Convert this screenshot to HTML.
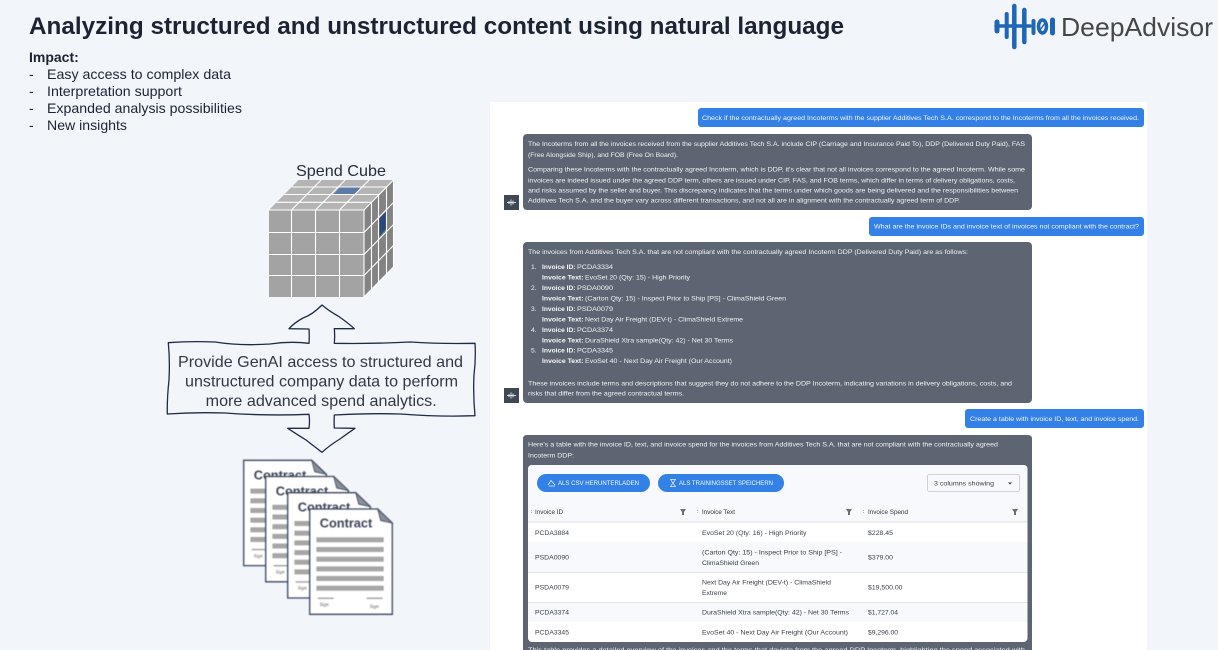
<!DOCTYPE html>
<html lang="en">
<head>
<meta charset="utf-8">
<title>Analyzing structured and unstructured content using natural language</title>
<style>
html,body{margin:0;padding:0;background:#f2f6fa}
svg{display:block}
text{font-family:"Liberation Sans",sans-serif}
.h{fill:#1c2333}
.w{fill:#f2f4f6;font-size:6.7px}
.wb{fill:#f7f8f9;font-size:6.7px;font-weight:bold}
.t{fill:#3a3f46;font-size:6.7px}
.th{fill:#33383f;font-size:6.2px}
.c{fill:#3c4356;font-size:13px;font-weight:bold}
.s{fill:#555;font-size:5px;font-style:italic;font-family:"Liberation Serif",serif}
.b3{filter:blur(.3px)}
.b4{filter:blur(.4px)}
</style>
</head>
<body>
<svg xmlns="http://www.w3.org/2000/svg" width="1218" height="650" viewBox="0 0 1218 650">
<defs>
<clipPath id="tc"><rect x="528" y="465" width="499.500" height="177" rx="4"/></clipPath>
<g id="doc">
<path d="M0 0H68L82.600 14V105.300H0Z" fill="#fff" stroke="#3a4460" stroke-width="1.300"/>
<path d="M68 0L71 11.500L82.600 14Z" fill="#8b8f98" stroke="#3a4460" stroke-width=".8"/>
<g fill="#a6a6a6">
<rect x="6.700" y="28.300" width="67.300" height="5"/>
<rect x="6.700" y="38" width="67.300" height="5"/>
<rect x="6.700" y="47.700" width="67.300" height="5"/>
<rect x="6.700" y="57.400" width="67.300" height="5"/>
<rect x="6.700" y="67" width="67.300" height="5"/>
<rect x="6.700" y="76.700" width="67.300" height="5"/>
<rect x="8" y="88.500" width="16" height="1.500"/>
<rect x="57" y="88.500" width="16" height="1.500"/>
</g>
</g>
<g id="av">
<rect x="0" y="0" width="15" height="15" fill="#3f4855"/>
<path d="M3 7.500H12M5 6V9M7 4.500V10.500M9 5.500V9.500" stroke="#fff" stroke-width=".8" fill="none"/>
</g>
</defs>

<rect width="1218" height="650" fill="#f2f6fa"/>

<!-- Title -->
<text x="29" y="34" class="h" font-size="24" font-weight="bold" textLength="815" lengthAdjust="spacingAndGlyphs">Analyzing structured and unstructured content using natural language</text>

<!-- Logo -->
<g stroke="#1f66b5" stroke-linecap="round" fill="none" class="b3">
<path d="M996 26H1030" stroke-width="3.500"/>
<path d="M997 22V31" stroke-width="5"/>
<path d="M1006.700 14V37" stroke-width="4"/>
<path d="M1014.300 6V47" stroke-width="4.500"/>
<path d="M1024.300 10V42" stroke-width="4.500"/>
<path d="M1033.500 21V33" stroke-width="4"/>
<path d="M1052.500 20V33" stroke-width="5"/>
</g>
<ellipse cx="1042.500" cy="26.500" rx="4" ry="6.500" fill="none" stroke="#1f66b5" stroke-width="3.500" class="b3"/>
<path d="M1040 30L1045 23" stroke="#1f66b5" stroke-width="1.500" class="b3"/>
<text x="1061" y="36" font-size="26" fill="#464646" textLength="152" lengthAdjust="spacingAndGlyphs">DeepAdvisor</text>

<!-- Impact -->
<text x="29" y="62" class="h" font-size="14" font-weight="bold">Impact:</text>
<g class="h" font-size="14">
<text x="29" y="79">-</text><text x="47" y="79" textLength="184" lengthAdjust="spacingAndGlyphs">Easy access to complex data</text>
<text x="29" y="96">-</text><text x="47" y="96" textLength="135" lengthAdjust="spacingAndGlyphs">Interpretation support</text>
<text x="29" y="113">-</text><text x="47" y="113" textLength="195" lengthAdjust="spacingAndGlyphs">Expanded analysis possibilities</text>
<text x="29" y="130">-</text><text x="47" y="130" textLength="80" lengthAdjust="spacingAndGlyphs">New insights</text>
</g>

<!-- Spend cube -->
<text x="296" y="176" font-size="16" fill="#262c3a" textLength="90" lengthAdjust="spacingAndGlyphs">Spend Cube</text>
<path d="M269 210H364L393.500 180H298.500Z" fill="#b4b4b4"/>
<path d="M364 210L393.500 180V267L364 297Z" fill="#838383"/>
<rect x="269" y="210" width="95" height="87" fill="#a3a3a3"/>
<path d="M340 187H360.700L355 194.500H333.300Z" fill="#5b7aa5"/>
<path d="M379.300 218.300L386.700 211V228.300L379.300 236.700Z" fill="#2c4a78"/>
<g stroke="#fff" fill="none" stroke-width="1.100">
<path d="M291.500 210V297M315.500 210V297M339.500 210V297M269 232.500H364M269 254.500H364M269 275.500H364"/>
<path d="M269 210H364V297M364 210L393.500 180"/>
<path d="M291.500 210L321.100 180M315.500 210L345.100 180M339.500 210L369.100 180"/>
<path d="M291.700 187H386.700M284.300 194.500H379.300M276.600 202.300H371.600"/>
<path d="M371.500 202.500V289.500M378.500 195.500V282.500M386.500 187.500V274.500"/>
<path d="M364 232.500L393.500 202.500M364 254.500L393.500 224.500M364 275.500L393.500 245.500"/>
<path d="M393.500 180V267L364 297"/>
</g>

<!-- Sketched callout arrow -->
<path d="M322 305Q312 315 303 318Q294 323 289 328.700L309 329Q309.500 336 309 343.300Q290 341 270 344Q240 346 215 342Q190 341 168.300 342.700Q170 360 169 380Q167 398 167.300 414Q195 412 225 413Q265 416 309 414.300Q310 421 309 428.300L287.700 428.300Q298 435 306 440Q315 447 322 452.300Q330 445 340 439Q348 433 355 428.300L334.300 428Q334 421 334.300 415Q370 413 400 414Q440 417 475 415.700Q473 395 474 375Q476 358 475 343.300Q440 344 410 342Q370 344 334.300 343.300Q335 336 334.300 328.700L354.300 328.700Q347 322 338 316Q329 311 322 305Z" fill="#f2f6fa" stroke="#1f2a44" stroke-width="1.300" stroke-linejoin="round"/>
<g font-size="16" fill="#333844">
<text x="178" y="367" textLength="285" lengthAdjust="spacingAndGlyphs">Provide GenAI access to structured and</text>
<text x="185" y="386.500" textLength="273" lengthAdjust="spacingAndGlyphs">unstructured company data to perform</text>
<text x="205.700" y="406" textLength="231" lengthAdjust="spacingAndGlyphs">more advanced spend analytics.</text>
</g>

<!-- Contracts -->
<g class="b4">
<g transform="translate(243.700 460.300)"><use href="#doc"/><text x="10" y="19" class="c" textLength="52.600" lengthAdjust="spacingAndGlyphs">Contract</text><text x="10" y="97" class="s">Sign</text></g>
<g transform="translate(265.700 476.500)"><use href="#doc"/><text x="10" y="19" class="c" textLength="52.600" lengthAdjust="spacingAndGlyphs">Contract</text><text x="10" y="97" class="s">Sign</text></g>
<g transform="translate(287.700 492.700)"><use href="#doc"/><text x="10" y="19" class="c" textLength="52.600" lengthAdjust="spacingAndGlyphs">Contract</text><text x="10" y="97" class="s">Sign</text></g>
<g transform="translate(309.700 509)"><use href="#doc"/><text x="10" y="18.300" class="c" textLength="52.600" lengthAdjust="spacingAndGlyphs">Contract</text><text x="10" y="97" class="s">Sign</text><text x="60" y="99" class="s">Sign</text></g>
</g>

<!-- Chat panel -->
<rect x="490" y="102" width="657" height="548" fill="#fff"/>
<g class="b3">

<rect x="698" y="108" width="446" height="19" rx="3" fill="#3380e6"/>
<text x="702" y="120" class="w" textLength="437" lengthAdjust="spacingAndGlyphs">Check if the contractually agreed Incoterms with the supplier Additives Tech S.A. correspond to the Incoterms from all the invoices received.</text>

<rect x="523" y="134" width="509" height="76" rx="4" fill="#5c6571"/>
<use href="#av" x="504" y="195"/>
<g class="w">
<text x="528" y="146" textLength="497" lengthAdjust="spacingAndGlyphs">The Incoterms from all the invoices received from the supplier Additives Tech S.A. include CIP (Carriage and Insurance Paid To), DDP (Delivered Duty Paid), FAS</text>
<text x="528" y="157" textLength="150" lengthAdjust="spacingAndGlyphs">(Free Alongside Ship), and FOB (Free On Board).</text>
<text x="528" y="171.500" textLength="497" lengthAdjust="spacingAndGlyphs">Comparing these Incoterms with the contractually agreed Incoterm, which is DDP, it's clear that not all invoices correspond to the agreed Incoterm. While some</text>
<text x="528" y="182.500" textLength="487" lengthAdjust="spacingAndGlyphs">invoices are indeed issued under the agreed DDP term, others are issued under CIP, FAS, and FOB terms, which differ in terms of delivery obligations, costs,</text>
<text x="528" y="192.500" textLength="490" lengthAdjust="spacingAndGlyphs">and risks assumed by the seller and buyer. This discrepancy indicates that the terms under which goods are being delivered and the responsibilities between</text>
<text x="528" y="202.500" textLength="432" lengthAdjust="spacingAndGlyphs">Additives Tech S.A. and the buyer vary across different transactions, and not all are in alignment with the contractually agreed term of DDP.</text>
</g>

<rect x="869" y="217" width="275" height="19" rx="3" fill="#3380e6"/>
<text x="874" y="228.500" class="w" textLength="265" lengthAdjust="spacingAndGlyphs">What are the invoice IDs and invoice text of invoices not compliant with the contract?</text>

<rect x="523" y="242" width="509" height="161" rx="4" fill="#5c6571"/>
<use href="#av" x="504" y="388"/>
<g class="w">
<text x="528" y="254" textLength="440" lengthAdjust="spacingAndGlyphs">The invoices from Additives Tech S.A. that are not compliant with the contractually agreed Incoterm DDP (Delivered Duty Paid) are as follows:</text>
<text x="531" y="269">1.</text>
<text x="577" y="269" textLength="36" lengthAdjust="spacingAndGlyphs">PCDA3334</text>
<text x="585" y="279.500" textLength="105" lengthAdjust="spacingAndGlyphs">EvoSet 20 (Qty: 15) - High Priority</text>
<text x="531" y="290">2.</text>
<text x="577" y="290" textLength="36" lengthAdjust="spacingAndGlyphs">PSDA0090</text>
<text x="585" y="300.500" textLength="201" lengthAdjust="spacingAndGlyphs">(Carton Qty: 15) - Inspect Prior to Ship [PS] - ClimaShield Green</text>
<text x="531" y="311">3.</text>
<text x="577" y="311" textLength="36" lengthAdjust="spacingAndGlyphs">PSDA0079</text>
<text x="585" y="321.500" textLength="158" lengthAdjust="spacingAndGlyphs">Next Day Air Freight (DEV-t) - ClimaShield Extreme</text>
<text x="531" y="332">4.</text>
<text x="577" y="332" textLength="36" lengthAdjust="spacingAndGlyphs">PCDA3374</text>
<text x="585" y="342.500" textLength="148" lengthAdjust="spacingAndGlyphs">DuraShield Xtra sample(Qty: 42) - Net 30 Terms</text>
<text x="531" y="352.500">5.</text>
<text x="577" y="352.500" textLength="36" lengthAdjust="spacingAndGlyphs">PCDA3345</text>
<text x="585" y="363" textLength="147" lengthAdjust="spacingAndGlyphs">EvoSet 40 - Next Day Air Freight (Our Account)</text>
<text x="528" y="385.500" textLength="484" lengthAdjust="spacingAndGlyphs">These invoices include terms and descriptions that suggest they do not adhere to the DDP Incoterm, indicating variations in delivery obligations, costs, and</text>
<text x="528" y="395.500" textLength="156" lengthAdjust="spacingAndGlyphs">risks that differ from the agreed contractual terms.</text>
</g>
<g class="wb">
<text x="542" y="269" textLength="33.500" lengthAdjust="spacingAndGlyphs">Invoice ID:</text>
<text x="542" y="279.500" textLength="41.500" lengthAdjust="spacingAndGlyphs">Invoice Text:</text>
<text x="542" y="290" textLength="33.500" lengthAdjust="spacingAndGlyphs">Invoice ID:</text>
<text x="542" y="300.500" textLength="41.500" lengthAdjust="spacingAndGlyphs">Invoice Text:</text>
<text x="542" y="311" textLength="33.500" lengthAdjust="spacingAndGlyphs">Invoice ID:</text>
<text x="542" y="321.500" textLength="41.500" lengthAdjust="spacingAndGlyphs">Invoice Text:</text>
<text x="542" y="332" textLength="33.500" lengthAdjust="spacingAndGlyphs">Invoice ID:</text>
<text x="542" y="342.500" textLength="41.500" lengthAdjust="spacingAndGlyphs">Invoice Text:</text>
<text x="542" y="352.500" textLength="33.500" lengthAdjust="spacingAndGlyphs">Invoice ID:</text>
<text x="542" y="363" textLength="41.500" lengthAdjust="spacingAndGlyphs">Invoice Text:</text>
</g>

<rect x="965" y="409" width="179" height="19" rx="3" fill="#3380e6"/>
<text x="970" y="421" class="w" textLength="169" lengthAdjust="spacingAndGlyphs">Create a table with invoice ID, text, and invoice spend.</text>

<path d="M523 650V439Q523 435 527 435H1028Q1032 435 1032 439V650Z" fill="#5c6571"/>
<text x="528" y="446.500" class="w" textLength="470" lengthAdjust="spacingAndGlyphs">Here's a table with the invoice ID, text, and invoice spend for the invoices from Additives Tech S.A. that are not compliant with the contractually agreed</text>
<text x="528" y="457.500" class="w" textLength="46" lengthAdjust="spacingAndGlyphs">Incoterm DDP:</text>
<text x="528" y="652" class="w" textLength="497" lengthAdjust="spacingAndGlyphs">This table provides a detailed overview of the invoices and the terms that deviate from the agreed DDP Incoterm, highlighting the spend associated with</text>

<!-- Data table -->
<g clip-path="url(#tc)">
<rect x="528" y="465" width="500" height="177" fill="#fff"/>
<rect x="528" y="465" width="500" height="57" fill="#f7f9fc"/>
<rect x="528" y="542" width="500" height="30" fill="#f7f9fc"/>
<rect x="528" y="603" width="500" height="19" fill="#f7f9fc"/>
<rect x="528" y="521.500" width="500" height="1" fill="#dde1e7"/>
<rect x="528" y="572" width="500" height="1" fill="#e3e6eb"/>
<rect x="528" y="602" width="500" height="1" fill="#e3e6eb"/>
</g>

<rect x="537" y="474" width="113" height="18" rx="9" fill="#3380e6"/>
<rect x="658" y="474" width="126" height="18" rx="9" fill="#3380e6"/>
<path d="M548 485L551 480.500L555 485M549 486H555" fill="none" stroke="#eef4fd" stroke-width=".7"/>
<path d="M670.500 479.500H675.500L673 483L675.500 486.500H670.500L673 483Z" fill="none" stroke="#eef4fd" stroke-width=".7"/>
<text x="558" y="485" fill="#f4f8fe" font-size="6.200" textLength="81" lengthAdjust="spacingAndGlyphs">ALS CSV HERUNTERLADEN</text>
<text x="679" y="485" fill="#f4f8fe" font-size="6.200" textLength="94" lengthAdjust="spacingAndGlyphs">ALS TRAININGSSET SPEICHERN</text>
<rect x="927.500" y="474.500" width="92" height="17" rx="2" fill="#f7f9fc" stroke="#c3c7cd" stroke-width=".8"/>
<text x="934" y="485.500" class="t" textLength="60" lengthAdjust="spacingAndGlyphs">3 columns showing</text>
<path d="M1008 482.500H1012L1010 484.500Z" fill="#333"/>

<g fill="#888"><rect x="531" y="510" width=".8" height=".8"/><rect x="531" y="512" width=".8" height=".8"/><rect x="697" y="510" width=".8" height=".8"/><rect x="697" y="512" width=".8" height=".8"/><rect x="863" y="510" width=".8" height=".8"/><rect x="863" y="512" width=".8" height=".8"/></g>
<text x="535" y="514" class="th" textLength="28" lengthAdjust="spacingAndGlyphs">Invoice ID</text>
<text x="702" y="514" class="th" textLength="33" lengthAdjust="spacingAndGlyphs">Invoice Text</text>
<text x="868" y="514" class="th" textLength="40" lengthAdjust="spacingAndGlyphs">Invoice Spend</text>
<g fill="#6b6f75">
<path d="M680 509H686L684 512V515H682V512Z"/>
<path d="M846 509H852L850 512V515H848V512Z"/>
<path d="M1012 509H1018L1016 512V515H1014V512Z"/>
</g>

<g class="t">
<text x="535" y="535" textLength="34" lengthAdjust="spacingAndGlyphs">PCDA3884</text>
<text x="702" y="535" textLength="104.500" lengthAdjust="spacingAndGlyphs">EvoSet 20 (Qty: 16) - High Priority</text>
<text x="868" y="535" textLength="25" lengthAdjust="spacingAndGlyphs">$228.45</text>
<text x="535" y="559.500" textLength="34" lengthAdjust="spacingAndGlyphs">PSDA0090</text>
<text x="702" y="554.500" textLength="140" lengthAdjust="spacingAndGlyphs">(Carton Qty: 15) - Inspect Prior to Ship [PS] -</text>
<text x="702" y="565" textLength="57" lengthAdjust="spacingAndGlyphs">ClimaShield Green</text>
<text x="868" y="559.500" textLength="25" lengthAdjust="spacingAndGlyphs">$379.00</text>
<text x="535" y="589.500" textLength="34" lengthAdjust="spacingAndGlyphs">PSDA0079</text>
<text x="702" y="584.500" textLength="129" lengthAdjust="spacingAndGlyphs">Next Day Air Freight (DEV-t) - ClimaShield</text>
<text x="702" y="595" textLength="25" lengthAdjust="spacingAndGlyphs">Extreme</text>
<text x="868" y="589.500" textLength="34.500" lengthAdjust="spacingAndGlyphs">$19,500.00</text>
<text x="535" y="614.500" textLength="34" lengthAdjust="spacingAndGlyphs">PCDA3374</text>
<text x="702" y="614.500" textLength="147" lengthAdjust="spacingAndGlyphs">DuraShield Xtra sample(Qty: 42) - Net 30 Terms</text>
<text x="868" y="614.500" textLength="30" lengthAdjust="spacingAndGlyphs">$1,727.04</text>
<text x="535" y="634.500" textLength="34" lengthAdjust="spacingAndGlyphs">PCDA3345</text>
<text x="702" y="634.500" textLength="146" lengthAdjust="spacingAndGlyphs">EvoSet 40 - Next Day Air Freight (Our Account)</text>
<text x="868" y="634.500" textLength="30" lengthAdjust="spacingAndGlyphs">$9,296.00</text>
</g>
</g>
</svg>
</body>
</html>
